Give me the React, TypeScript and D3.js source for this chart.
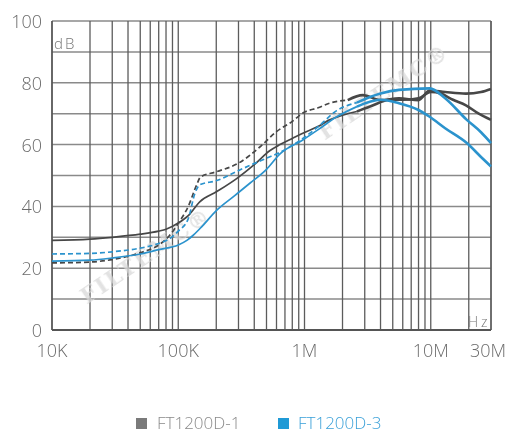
import * as d3 from "d3";

// [frequency Hz, dB]
const ft1Solid: [number, number][] = [
  [1e4, 29], [2e4, 29.4], [3e4, 30], [5e4, 31], [7e4, 32], [8e4, 32.6], [1e5, 34.6], [1.2e5, 37],
  [1.48e5, 41.5], [2.02e5, 44.8], [2.9e5, 49], [4e5, 53.5], [5.3e5, 58], [6.4e5, 60], [8e5, 62],
  [9.7e5, 63.7], [1.3e6, 66], [1.58e6, 68], [2e6, 69.5], [2.6e6, 70.7], [3.3e6, 72.3], [4.8e6, 74.5],
  [6e6, 74.5], [8e6, 75], [1e7, 77], [1.2e7, 76.5], [1.5e7, 74.5], [1.9e7, 72.7], [2.4e7, 70], [3e7, 68],
];
const ft1Dashed: [number, number][] = [
  [1e4, 21.7], [2e4, 22], [3e4, 22.8], [5e4, 25], [7e4, 27.5], [8.5e4, 30.5], [1e5, 34.5], [1.2e5, 40],
  [1.4e5, 47], [1.5e5, 49.5], [2e5, 51.2], [3e5, 54], [4.45e5, 59.3], [6e5, 64.2], [8e5, 67.5],
  [9.7e5, 70.2], [1.3e6, 72], [1.58e6, 73.4], [2.2e6, 74.4], [2.9e6, 76], [4e6, 74.4], [5.6e6, 75],
  [8e6, 74.4], [9.8e6, 77.5], [1.3e7, 77], [1.9e7, 76.5], [2.5e7, 77], [3e7, 78],
];
const ft3Dashed: [number, number][] = [
  [1e4, 24.6], [2e4, 24.8], [3e4, 25.3], [5e4, 26.5], [7e4, 28], [8.5e4, 29.5], [1e5, 32], [1.2e5, 36],
  [1.35e5, 44], [1.48e5, 47], [2e5, 48.3], [3.07e5, 51.8], [5e5, 55.6], [6.4e5, 57.5], [9.7e5, 62],
  [1.3e6, 66], [1.8e6, 71], [2.6e6, 73.6], [4e6, 76.5], [5.6e6, 77.7], [9.8e6, 78.2], [1.3e7, 75],
  [1.93e7, 68], [2.5e7, 64], [3e7, 60.5],
];
const ft3Solid: [number, number][] = [
  [1e4, 22.3], [2e4, 22.6], [3e4, 23.3], [5e4, 24.6], [7e4, 26], [1e5, 27.5], [1.17e5, 29], [1.3e5, 30.5],
  [1.5e5, 33], [2.02e5, 38.8], [2.8e5, 43.5], [3.69e5, 47.5], [5e5, 52], [6.4e5, 57], [9.7e5, 61.5],
  [1.3e6, 65], [1.8e6, 69], [2.6e6, 72.3], [4e6, 74.5], [5.6e6, 73.4], [8e6, 71.2], [9.8e6, 69],
  [1.3e7, 65.3], [1.93e7, 60.5], [2.5e7, 56], [3e7, 52.9],
];

const yTicks = [0, 20, 40, 60, 80, 100];
const yGrid = [0, 10, 20, 30, 40, 50, 60, 70, 80, 90, 100];
const xTicks: [number, string][] = [[1e4, "10K"], [1e5, "100K"], [1e6, "1M"], [1e7, "10M"], [3e7, "30M"]];
const legendNames = ["FT1200D-1", "FT1200D-3"];

const GRAY = "#474747";
const BLUE = "#2b93cd";

export default function App() {
  const left = 52, right = 491, top = 21, bottom = 330;
  const x = d3.scaleLog().domain([1e4, 3e7]).range([left, right]);
  const y = d3.scaleLinear().domain([0, 100]).range([bottom, top]);

  const xGrid: number[] = [];
  for (let dec = 1e4; dec < 3e7; dec *= 10) {
    for (let k = 1; k < 10; k++) {
      const f = dec * k;
      if (f <= 3e7) xGrid.push(f);
    }
  }
  xGrid.push(3e7);

  const line = d3.line<[number, number]>()
    .x((d) => x(d[0]))
    .y((d) => y(d[1]))
    .curve(d3.curveMonotoneX);

  const split = 2.6e6;
  const series = [
    { data: ft1Solid, color: GRAY, dash: undefined },
    { data: ft1Dashed, color: GRAY, dash: "5,3" },
    { data: ft3Dashed, color: BLUE, dash: "5,3" },
    { data: ft3Solid, color: BLUE, dash: undefined },
  ];

  const font = "'Open Sans', 'Noto Sans', sans-serif";

  return (
    <svg width={508} height={435} style={{ position: "absolute", left: 0, top: 0, background: "#fff" }}>
      {/* grid */}
      {yGrid.map((v) => (
        <line key={"h" + v} x1={left} x2={right} y1={y(v)} y2={y(v)} stroke="#8a8a8a" strokeWidth={1.5} />
      ))}
      {xGrid.map((f, i) => (
        <line key={"v" + i} x1={x(f)} x2={x(f)} y1={top} y2={bottom} stroke="#5c5c5c" strokeWidth={1.3} />
      ))}
      <line x1={left} x2={right} y1={bottom} y2={bottom} stroke="#555" strokeWidth={1.8} />
      <line x1={left} x2={left} y1={top} y2={bottom} stroke="#555" strokeWidth={1.4} />

      {/* watermark */}
      <g fill="#d9d9d9" fontFamily="'DejaVu Serif', serif" fontWeight="bold" fontSize={22} opacity={0.75}>
        <text transform="translate(150,262) rotate(-34)" textAnchor="middle" letterSpacing={2}>FILTEMC®</text>
        <text transform="translate(388,98) rotate(-34)" textAnchor="middle" letterSpacing={2}>FILTEMC®</text>
      </g>

      {/* series */}
      {series.map((s, i) => {
        const low = s.data.filter((d) => d[0] <= split);
        const high = s.data.filter((d, j) => d[0] >= split || (j + 1 < s.data.length && s.data[j + 1][0] > split && d[0] <= split));
        return (
          <g key={i}>
            <path d={line(low) || ""} fill="none" stroke={s.color} strokeWidth={1.7} strokeDasharray={s.dash} />
            <path d={line(high) || ""} fill="none" stroke={s.color} strokeWidth={2.6} />
          </g>
        );
      })}

      {/* axis labels */}
      <g fontFamily={font} fontSize={18} fill="#6b6b6b" fontWeight={300}>
        {yTicks.map((v) => (
          <text key={v} x={42} y={y(v)} textAnchor="end" dominantBaseline="central">{v}</text>
        ))}
        {xTicks.map(([f, label]) => (
          <text key={label} x={f === 3e7 ? x(f) - 3 : x(f)} y={350} textAnchor="middle" dominantBaseline="central">{label}</text>
        ))}
      </g>
      <text x={54} y={49} fontFamily={font} fontSize={15} fill="#777" letterSpacing={2} fontWeight={300}>dB</text>
      <text x={468} y={327} fontFamily={font} fontSize={14} fill="#777" letterSpacing={3} fontWeight={300}>Hz</text>

      {/* legend */}
      <rect x={136} y={418} width={11} height={11} fill="#7a7a7a" />
      <text x={157} y={429} fontFamily={font} fontSize={17} fill="#8a8a8a" fontWeight={300}>{legendNames[0]}</text>
      <rect x={278} y={418} width={11} height={11} fill="#1f9ad6" />
      <text x={298} y={429} fontFamily={font} fontSize={17} fill="#3aa0d8" fontWeight={300}>{legendNames[1]}</text>
    </svg>
  );
}
